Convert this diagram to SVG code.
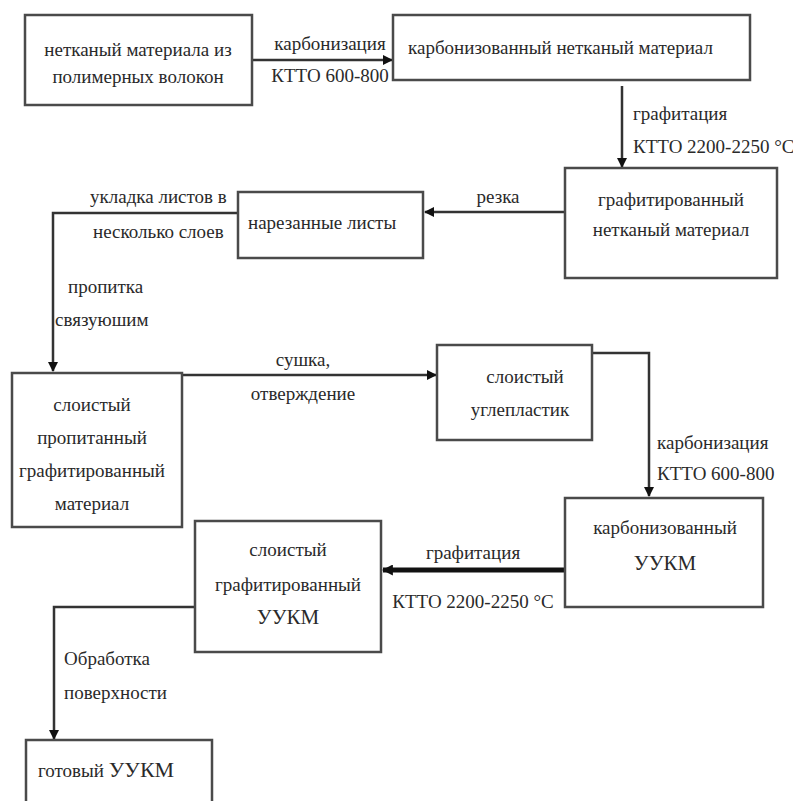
<svg xmlns="http://www.w3.org/2000/svg" width="793" height="801" viewBox="0 0 793 801" font-family="'Liberation Serif', 'Times New Roman', serif">
<defs>
<style>
.box{fill:#fff;stroke:#4a4a4a;stroke-width:2.5}
.t{font-size:19px;fill:#2a2a2a}
.m{text-anchor:middle}
.ln{fill:none;stroke:#333;stroke-width:2.5}
.thick{fill:none;stroke:#111;stroke-width:5}
</style>
<marker id="ah" viewBox="0 0 10 10" refX="9" refY="5" markerWidth="11" markerHeight="11" orient="auto" markerUnits="userSpaceOnUse">
<path d="M0,0 L10,5 L0,10 z" fill="#111"/>
</marker>
<marker id="ahs" viewBox="0 0 10 10" refX="9" refY="5" markerWidth="4" markerHeight="4" orient="auto">
<path d="M0,0 L10,5 L0,10 z" fill="#111"/>
</marker>
</defs>
<rect width="793" height="801" fill="#fff"/>

<g id="connectors">
<path class="ln" d="M252,60 H392" marker-end="url(#ahs)"/>
<path class="ln" d="M622,86 V167" marker-end="url(#ahs)"/>
<path class="ln" d="M565,212 H425" marker-end="url(#ahs)"/>
<path class="ln" d="M238,213 H53 V371" marker-end="url(#ahs)"/>
<path class="ln" d="M182,375 H436" marker-end="url(#ahs)"/>
<path class="ln" d="M592,353 H649 V496" marker-end="url(#ahs)"/>
<path class="thick" d="M565,570 H383" marker-end="url(#ah)"/>
<path class="ln" d="M195,607 H54 V739" marker-end="url(#ahs)"/>
<text class="t m" x="330" y="50">карбонизация</text>
<text class="t m" x="330" y="82">КТТО 600-800</text>
<text class="t" x="633" y="120">графитация</text>
<text class="t" x="633" y="153">КТТО 2200-2250 °С</text>
<text class="t m" x="498" y="203">резка</text>
<text class="t" x="90" y="203">укладка листов в</text>
<text class="t" x="93" y="238">несколько слоев</text>
<text class="t" x="68" y="293">пропитка</text>
<text class="t" x="55" y="326">связуюшим</text>
<text class="t m" x="303" y="366">сушка,</text>
<text class="t m" x="303" y="400">отверждение</text>
<text class="t" x="657" y="449">карбонизация</text>
<text class="t" x="657" y="480">КТТО 600-800</text>
<text class="t m" x="473" y="559">графитация</text>
<text class="t m" x="473" y="608">КТТО 2200-2250 °С</text>
<text class="t" x="64" y="665">Обработка</text>
<text class="t" x="64" y="699">поверхности</text>
</g>

<g id="n1">
<rect class="box" x="25" y="15" width="227" height="90"/>
<text class="t m" x="138" y="56">нетканый материала из</text>
<text class="t m" x="138" y="83">полимерных  волокон</text>
</g>
<g id="n2">
<rect class="box" x="393" y="15" width="357" height="65"/>
<text class="t" x="408" y="54">карбонизованный нетканый материал</text>
</g>
<g id="n3">
<rect class="box" x="565" y="168" width="212" height="110"/>
<text class="t m" x="671" y="206">графитированный</text>
<text class="t m" x="671" y="236">нетканый материал</text>
</g>
<g id="n4">
<rect class="box" x="238" y="192" width="185" height="66"/>
<text class="t" x="248" y="229">нарезанные листы</text>
</g>
<g id="n5">
<rect class="box" x="12" y="373" width="170" height="154"/>
<text class="t m" x="92" y="411">слоистый</text>
<text class="t m" x="92" y="444">пропитанный</text>
<text class="t m" x="92" y="477">графитированный</text>
<text class="t m" x="92" y="510">материал</text>
</g>
<g id="n6">
<rect class="box" x="437" y="345" width="155" height="95"/>
<text class="t m" x="525" y="383">слоистый</text>
<text class="t m" x="520" y="416">углепластик</text>
</g>
<g id="n7">
<rect class="box" x="565" y="498" width="198" height="109"/>
<text class="t m" x="665" y="534">карбонизованный</text>
<text class="t m" x="665" y="570" style="font-size:21px">УУКМ</text>
</g>
<g id="n8">
<rect class="box" x="195" y="521" width="186" height="131"/>
<text class="t m" x="288" y="556">слоистый</text>
<text class="t m" x="288" y="591">графитированный</text>
<text class="t m" x="288" y="624" style="font-size:21px">УУКМ</text>
</g>
<g id="n9">
<rect class="box" x="26" y="740" width="186" height="70"/>
<text class="t" x="38" y="777">готовый <tspan style="font-size:22px">УУКМ</tspan></text>
</g>
</svg>
